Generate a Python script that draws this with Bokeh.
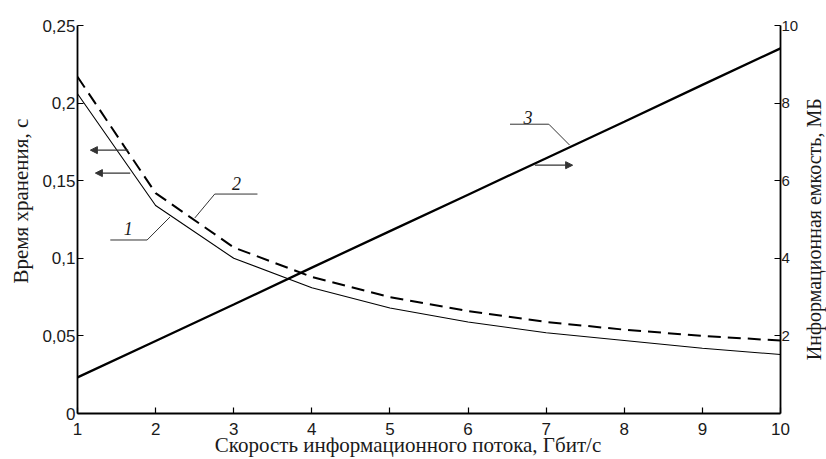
import math
from bokeh.plotting import figure
from bokeh.layouts import row
from bokeh.models import (Range1d, LinearAxis, FixedTicker, CustomJSTickFormatter,
                          Arrow, NormalHead, Label)
from bokeh.embed import file_html
from bokeh.resources import INLINE

# ---- data ----
speed = [1, 2, 3, 4, 5, 6, 7, 8, 9, 10]                      # Гбит/с
time_1 = [0.206, 0.134, 0.100, 0.081, 0.068, 0.059, 0.052, 0.047, 0.042, 0.038]
time_2 = [0.217, 0.142, 0.107, 0.088, 0.075, 0.066, 0.059, 0.054, 0.050, 0.047]
capacity_3 = [0.93, 1.87, 2.81, 3.76, 4.70, 5.64, 6.58, 7.52, 8.47, 9.41]  # МБ

x_ticks = [1, 2, 3, 4, 5, 6, 7, 8, 9, 10]
left_ticks = [0, 0.05, 0.1, 0.15, 0.2, 0.25]
right_ticks = [2, 4, 6, 8, 10]

x_title = "Скорость информационного потока, Гбит/с"
left_title = "Время хранения, с"
right_title = "Информационная емкость, МБ"

# annotation geometry (data units, left axis)
arrows_left = [((1.649, 0.1697), (1.165, 0.1697)), ((1.675, 0.1549), (1.229, 0.1549))]
arrows_right = [((6.855, 0.160), (7.339, 0.160))]
leaders = [
    ([1.42, 1.891, 2.184], [0.1118, 0.1118, 0.1266]),
    ([3.304, 2.757, 2.502], [0.1414, 0.1414, 0.126]),
    ([6.537, 7.034, 7.301], [0.1864, 0.1864, 0.1729]),
]
curve_labels = [("1", 1.649, 0.1195), ("2", 3.037, 0.1485), ("3", 6.766, 0.1909)]

SANS = "Liberation Sans"
SERIF = "Liberation Serif"
TXT = "#1a1a1a"
NB = "\u00a0"

W_MAIN = 801
W_SIDE = 826 - W_MAIN
H = 459

p = figure(width=W_MAIN, height=H, output_backend="svg", toolbar_location=None,
           x_range=Range1d(1, 10), y_range=Range1d(0, 0.25),
           min_border_left=77, min_border_right=17, min_border_top=25, min_border_bottom=45)
p.outline_line_color = None
p.background_fill_color = "white"
p.border_fill_color = "white"
p.xgrid.visible = False
p.ygrid.visible = False
p.extra_y_ranges = {"cap": Range1d(0, 10)}

fmt = CustomJSTickFormatter(code="""
var s = tick.toFixed(2).replace(/0+$/, '').replace(/\\.$/, '');
return s.replace('.', ',');
""")

def style_axis(ax):
    ax.axis_line_color = "black"
    ax.axis_line_width = 1.8
    ax.major_tick_in = 6
    ax.major_tick_out = 0
    ax.minor_tick_in = 0
    ax.minor_tick_out = 0
    ax.major_tick_line_color = "black"
    ax.major_tick_line_width = 1.2
    ax.major_label_text_font = SANS
    ax.major_label_text_font_size = "17px"
    ax.major_label_text_color = TXT
    ax.major_label_standoff = 2
    ax.axis_label_text_font = SERIF
    ax.axis_label_text_font_style = "normal"
    ax.axis_label_text_color = TXT

xa = p.xaxis[0]
style_axis(xa)
xa.ticker = FixedTicker(ticks=x_ticks)
xa.axis_label = x_title + NB * 8
xa.axis_label_text_font_size = "21px"
xa.major_label_standoff = 9
xa.axis_label_standoff = -5

ya = p.yaxis[0]
style_axis(ya)
ya.ticker = FixedTicker(ticks=left_ticks)
ya.formatter = fmt
ya.axis_label = NB * 7 + left_title
ya.axis_label_text_font_size = "21px"
ya.axis_label_standoff = 6

ra = LinearAxis(y_range_name="cap", ticker=FixedTicker(ticks=right_ticks))
style_axis(ra)
ra.major_label_text_font_size = "15px"
ra.major_label_standoff = 1
p.add_layout(ra, "right")

p.line(speed, time_1, line_color="black", line_width=1.1)
p.line(speed, time_2, line_color="black", line_width=2, line_dash="13 7")
p.line(speed, capacity_3, y_range_name="cap", line_color="black", line_width=2.3)

for (x0, y0), (x1, y1) in arrows_left + arrows_right:
    p.add_layout(Arrow(x_start=x0, y_start=y0, x_end=x1, y_end=y1,
                       line_color="#333333", line_width=1.2,
                       end=NormalHead(size=7, fill_color="#333333", line_color="#333333")))

for xs, ys in leaders:
    p.line(xs, ys, line_color="#333333", line_width=1)

for txt, x, y in curve_labels:
    p.add_layout(Label(x=x, y=y, text=txt, text_font=SERIF, text_font_style="italic",
                       text_font_size="18px", text_color=TXT,
                       text_align="center", text_baseline="middle"))

# narrow side panel carrying the right-hand title (reads bottom-to-top)
side = figure(width=W_SIDE, height=H, output_backend="svg", toolbar_location=None,
              x_range=Range1d(0, W_SIDE), y_range=Range1d(0, H),
              x_axis_location=None, y_axis_location=None,
              min_border_left=0, min_border_right=0, min_border_top=0, min_border_bottom=0)
side.outline_line_color = None
side.background_fill_color = "white"
side.border_fill_color = "white"
side.xgrid.visible = False
side.ygrid.visible = False
side.add_layout(Label(x=W_SIDE / 2, y=H - 241, text=right_title,
                      text_font=SERIF, text_font_size="20px", text_color=TXT,
                      text_align="center", text_baseline="middle", angle=math.pi / 2))

layout = row(p, side)
open("out.html", "w").write(file_html(layout, INLINE))
